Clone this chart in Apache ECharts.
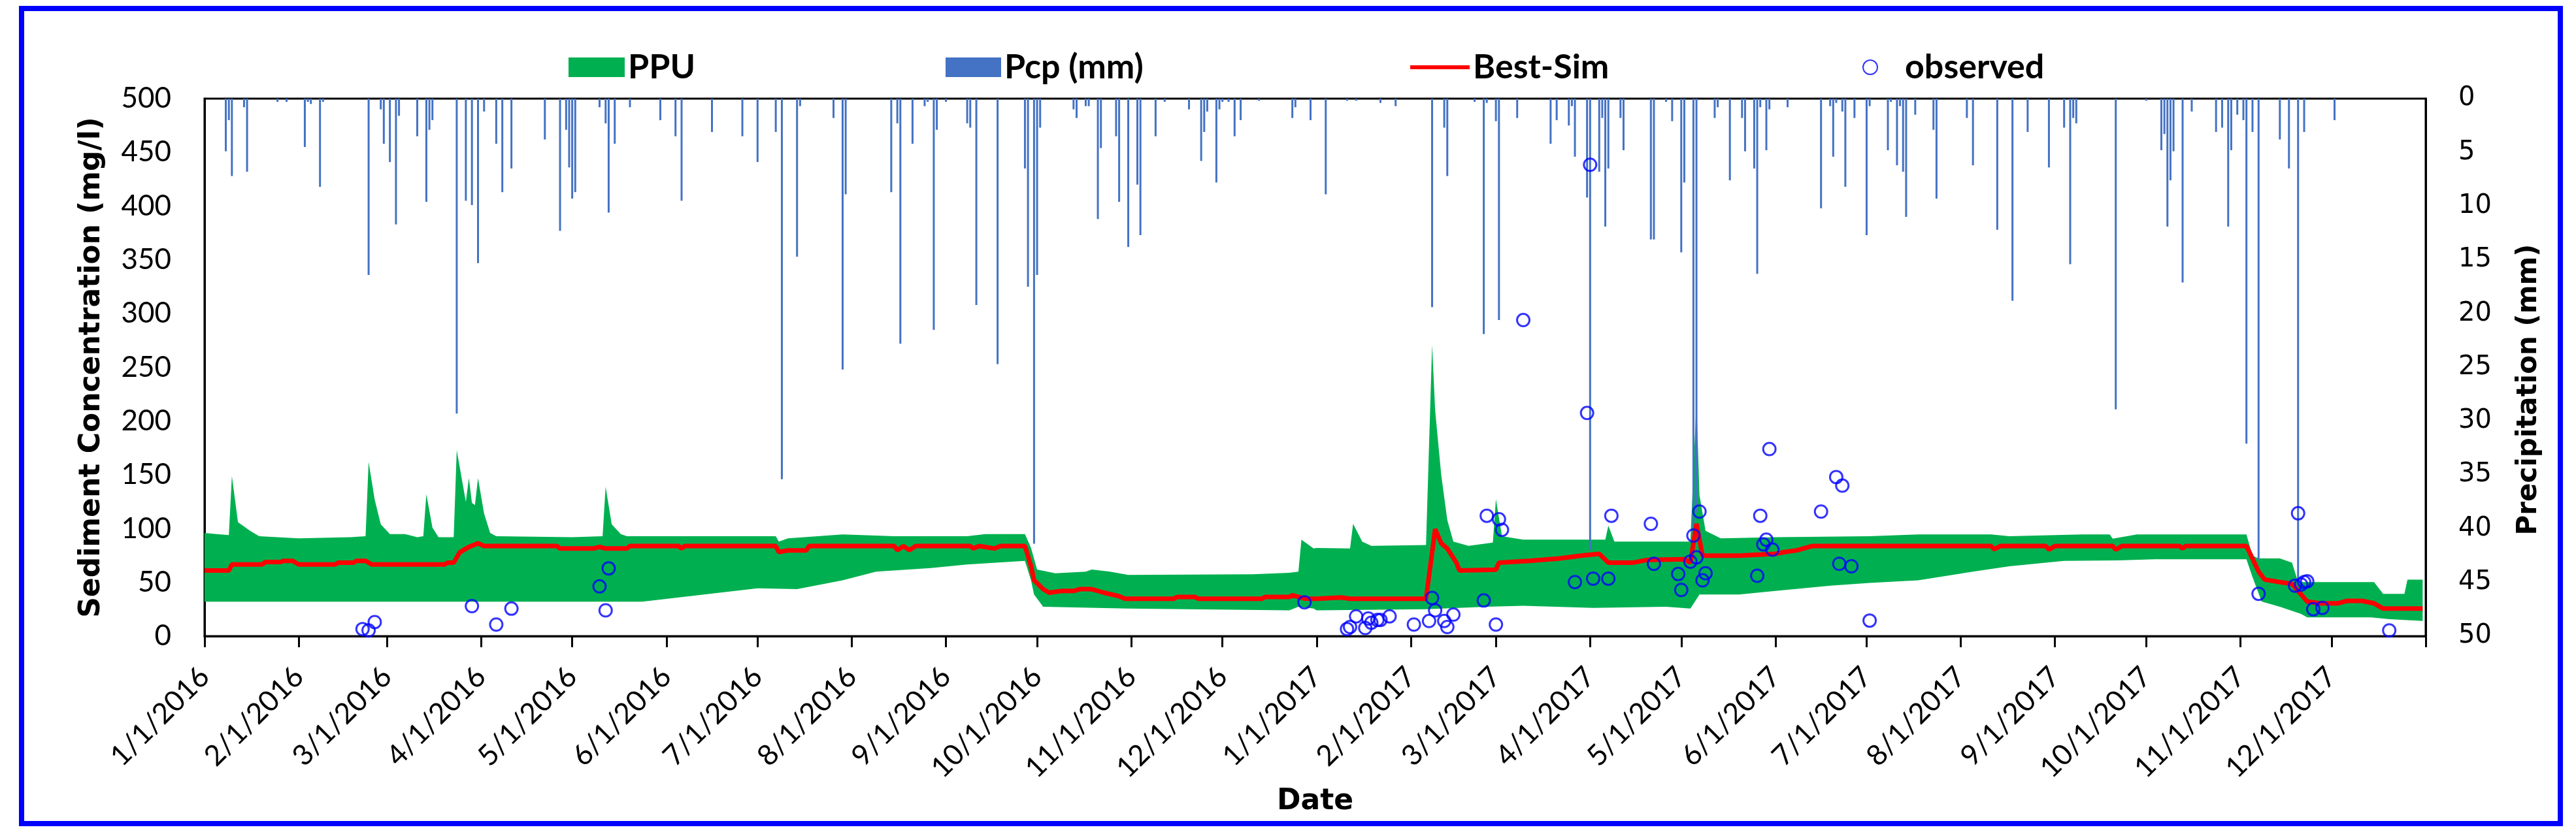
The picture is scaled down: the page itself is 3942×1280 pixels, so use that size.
<!DOCTYPE html>
<html>
<head>
<meta charset="utf-8">
<title>Sediment concentration</title>
<script src="https://cdn.jsdelivr.net/npm/echarts@6/dist/echarts.min.js"></script>
<style>
  html, body { margin: 0; padding: 0; background: #fff; }
  #chart { width: 3942px; height: 1280px; }
</style>
</head>
<body>
<div id="chart"></div>
<script>
// daily precipitation (mm), only the rainy days
const pcp = [
  ['2016-01-08', 4.9], ['2016-01-09', 2.0], ['2016-01-10', 7.2], ['2016-01-14', 0.8], ['2016-01-15', 6.8],
  ['2016-01-25', 0.3], ['2016-01-28', 0.3], ['2016-02-03', 4.5], ['2016-02-04', 0.3], ['2016-02-05', 0.5],
  ['2016-02-08', 8.2], ['2016-02-09', 0.3], ['2016-02-24', 16.4], ['2016-02-28', 1.0], ['2016-02-29', 4.2],
  ['2016-03-02', 5.9], ['2016-03-04', 11.7], ['2016-03-05', 1.6], ['2016-03-11', 3.5], ['2016-03-14', 9.6],
  ['2016-03-15', 2.9], ['2016-03-16', 2.0], ['2016-03-24', 29.3], ['2016-03-27', 9.5], ['2016-03-29', 9.9],
  ['2016-03-31', 15.3], ['2016-04-02', 1.2], ['2016-04-06', 4.2], ['2016-04-08', 8.7], ['2016-04-11', 6.5],
  ['2016-04-22', 3.8], ['2016-04-27', 12.3], ['2016-04-29', 2.9], ['2016-04-30', 6.4], ['2016-05-01', 9.3],
  ['2016-05-02', 8.7], ['2016-05-10', 0.8], ['2016-05-12', 2.3], ['2016-05-13', 10.6], ['2016-05-15', 4.2],
  ['2016-05-20', 0.8], ['2016-05-30', 2.0], ['2016-06-04', 3.5], ['2016-06-06', 9.5], ['2016-06-16', 3.1],
  ['2016-06-26', 3.5], ['2016-07-01', 5.9], ['2016-07-07', 3.1], ['2016-07-09', 35.4], ['2016-07-14', 14.7],
  ['2016-07-15', 0.7], ['2016-07-26', 1.8], ['2016-07-29', 25.2], ['2016-07-30', 8.9], ['2016-08-14', 8.7],
  ['2016-08-16', 2.3], ['2016-08-17', 22.8], ['2016-08-21', 4.2], ['2016-08-25', 0.7], ['2016-08-26', 0.3],
  ['2016-08-28', 21.5], ['2016-08-29', 2.9], ['2016-09-01', 0.3], ['2016-09-08', 2.3], ['2016-09-09', 2.7],
  ['2016-09-11', 19.2], ['2016-09-18', 24.7], ['2016-09-27', 6.5], ['2016-09-28', 17.5], ['2016-09-30', 41.4],
  ['2016-10-01', 16.4], ['2016-10-02', 2.7], ['2016-10-13', 1.0], ['2016-10-14', 1.8], ['2016-10-17', 0.7],
  ['2016-10-18', 0.7], ['2016-10-21', 11.2], ['2016-10-22', 4.6], ['2016-10-27', 3.5], ['2016-10-28', 9.6],
  ['2016-10-31', 13.8], ['2016-11-03', 8.0], ['2016-11-04', 12.7], ['2016-11-09', 3.5], ['2016-11-12', 0.3],
  ['2016-11-20', 1.0], ['2016-11-24', 5.8], ['2016-11-25', 3.1], ['2016-11-26', 1.2], ['2016-11-29', 7.8],
  ['2016-11-30', 1.0], ['2016-12-01', 0.3], ['2016-12-03', 0.3], ['2016-12-05', 3.5], ['2016-12-07', 2.0],
  ['2016-12-13', 0.2], ['2016-12-24', 1.8], ['2016-12-25', 0.8], ['2016-12-30', 2.0],
  ['2017-01-04', 8.9], ['2017-01-11', 0.2], ['2017-01-14', 0.2], ['2017-01-22', 0.4], ['2017-01-27', 0.7],
  ['2017-02-08', 19.4], ['2017-02-12', 2.7], ['2017-02-13', 7.2], ['2017-02-22', 0.3], ['2017-02-25', 21.9],
  ['2017-02-26', 0.4], ['2017-03-01', 2.1], ['2017-03-02', 20.6], ['2017-03-08', 1.8], ['2017-03-19', 4.2],
  ['2017-03-21', 2.0], ['2017-03-25', 2.5], ['2017-03-26', 0.7], ['2017-03-27', 5.4], ['2017-03-31', 9.2],
  ['2017-04-01', 42.0], ['2017-04-04', 6.8], ['2017-04-05', 1.8], ['2017-04-06', 11.9], ['2017-04-07', 6.5],
  ['2017-04-11', 1.8], ['2017-04-12', 4.8], ['2017-04-21', 13.1], ['2017-04-22', 13.1], ['2017-04-26', 0.3],
  ['2017-04-28', 2.1], ['2017-05-01', 14.3], ['2017-05-02', 7.8], ['2017-05-05', 42.4], ['2017-05-06', 38.5],
  ['2017-05-12', 1.8], ['2017-05-13', 0.8], ['2017-05-17', 7.6], ['2017-05-21', 1.8], ['2017-05-22', 4.9],
  ['2017-05-25', 6.5], ['2017-05-26', 16.3], ['2017-05-27', 0.8], ['2017-05-29', 4.8], ['2017-05-30', 1.0],
  ['2017-06-05', 0.8], ['2017-06-16', 10.2], ['2017-06-19', 0.7], ['2017-06-20', 5.4], ['2017-06-21', 0.4],
  ['2017-06-23', 1.2], ['2017-06-24', 8.2], ['2017-06-27', 1.8], ['2017-07-01', 12.7], ['2017-07-02', 0.7],
  ['2017-07-08', 4.8], ['2017-07-09', 0.3], ['2017-07-11', 6.2], ['2017-07-12', 0.7], ['2017-07-13', 6.8],
  ['2017-07-14', 11.0], ['2017-07-17', 1.5], ['2017-07-23', 2.9], ['2017-07-24', 9.3], ['2017-08-03', 1.8],
  ['2017-08-05', 6.2], ['2017-08-13', 12.2], ['2017-08-18', 18.8], ['2017-08-23', 3.1], ['2017-08-30', 6.4],
  ['2017-09-04', 2.7], ['2017-09-06', 15.4], ['2017-09-07', 1.8], ['2017-09-08', 2.3], ['2017-09-21', 28.9],
  ['2017-10-01', 0.2], ['2017-10-06', 4.8], ['2017-10-07', 3.3], ['2017-10-08', 11.9], ['2017-10-09', 7.6],
  ['2017-10-10', 4.9], ['2017-10-13', 17.1], ['2017-10-16', 1.2], ['2017-10-24', 3.1], ['2017-10-26', 2.7],
  ['2017-10-28', 11.9], ['2017-10-29', 4.8], ['2017-10-31', 1.5], ['2017-11-02', 2.0], ['2017-11-03', 32.1],
  ['2017-11-05', 3.1], ['2017-11-07', 42.9], ['2017-11-14', 3.8], ['2017-11-17', 6.5], ['2017-11-20', 45.0],
  ['2017-11-22', 3.1], ['2017-12-02', 2.0]
]

// 95PPU band, upper and lower edge (mg/l)
const ppuUpper = [
  ['2016-01-01', 96], ['2016-01-05', 95], ['2016-01-09', 94], ['2016-01-10', 149], ['2016-01-12', 106],
  ['2016-01-16', 98], ['2016-01-19', 93], ['2016-02-01', 91], ['2016-02-18', 92], ['2016-02-23', 93],
  ['2016-02-24', 162], ['2016-02-26', 127], ['2016-02-28', 104], ['2016-03-02', 95], ['2016-03-07', 95],
  ['2016-03-11', 92], ['2016-03-13', 93], ['2016-03-14', 132], ['2016-03-16', 101], ['2016-03-18', 92],
  ['2016-03-23', 92], ['2016-03-24', 173], ['2016-03-26', 141], ['2016-03-27', 125], ['2016-03-28', 147],
  ['2016-03-29', 124], ['2016-03-30', 122], ['2016-03-31', 147], ['2016-04-02', 114], ['2016-04-04', 96],
  ['2016-04-06', 93], ['2016-05-01', 92], ['2016-05-11', 93], ['2016-05-12', 139], ['2016-05-14', 104],
  ['2016-05-17', 95], ['2016-05-19', 93], ['2016-07-01', 93], ['2016-07-07', 93], ['2016-07-08', 88],
  ['2016-07-11', 91], ['2016-07-29', 94.6], ['2016-08-15', 93], ['2016-09-08', 93], ['2016-09-14', 95],
  ['2016-09-27', 95], ['2016-09-29', 82], ['2016-10-01', 62], ['2016-10-07', 58.5], ['2016-10-17', 60],
  ['2016-10-19', 62], ['2016-10-25', 60], ['2016-10-31', 57], ['2016-12-11', 57.5], ['2016-12-23', 59],
  ['2016-12-26', 60], ['2016-12-27', 89.7], ['2016-12-31', 81.5],
  ['2017-01-01', 82], ['2017-01-12', 81.5], ['2017-01-13', 104.5], ['2017-01-16', 88], ['2017-01-19', 84],
  ['2017-02-06', 84.8], ['2017-02-08', 271], ['2017-02-09', 210], ['2017-02-11', 150], ['2017-02-13', 108],
  ['2017-02-15', 88], ['2017-02-20', 84], ['2017-02-28', 87], ['2017-03-01', 127.5], ['2017-03-03', 93],
  ['2017-03-10', 89.7], ['2017-04-06', 89.7], ['2017-04-07', 102.8], ['2017-04-09', 88], ['2017-05-04', 88],
  ['2017-05-06', 219], ['2017-05-07', 131], ['2017-05-09', 98], ['2017-05-14', 91], ['2017-06-01', 92],
  ['2017-07-02', 93], ['2017-07-18', 94.6], ['2017-08-11', 94.6], ['2017-08-17', 93], ['2017-09-10', 94.6],
  ['2017-09-19', 94.6], ['2017-09-20', 90.7], ['2017-09-28', 94.6], ['2017-11-03', 94.6], ['2017-11-05', 74.9],
  ['2017-11-07', 72.3], ['2017-11-14', 72.3], ['2017-11-18', 68.3], ['2017-11-20', 50.3], ['2017-12-15', 50.3],
  ['2017-12-18', 39.4], ['2017-12-25', 39.4], ['2017-12-26', 52.6], ['2017-12-31', 52.6]
]

const ppuLower = [
  ['2016-01-01', 32], ['2016-05-24', 32], ['2016-07-01', 44.5], ['2016-07-14', 43.7], ['2016-07-29', 51.9],
  ['2016-08-09', 60], ['2016-08-27', 63.4], ['2016-09-08', 66.7], ['2016-09-27', 70], ['2016-09-29', 51.9],
  ['2016-09-30', 38.8], ['2016-10-03', 27.3], ['2016-10-31', 25.6], ['2016-12-23', 24], ['2016-12-26', 27.3],
  ['2016-12-31', 25.6],
  ['2017-01-01', 24], ['2017-02-06', 25], ['2017-02-26', 27.3], ['2017-03-10', 28.3], ['2017-04-02', 26.3],
  ['2017-04-26', 27.3], ['2017-05-04', 25.6], ['2017-05-07', 38.8], ['2017-05-20', 38.8], ['2017-06-01', 42],
  ['2017-06-19', 47], ['2017-07-02', 49.5], ['2017-07-18', 51.9], ['2017-08-05', 60], ['2017-08-17', 65],
  ['2017-09-04', 70], ['2017-09-22', 70.5], ['2017-10-04', 71.6], ['2017-11-03', 71.6], ['2017-11-05', 55],
  ['2017-11-08', 32.2], ['2017-11-14', 27.3], ['2017-11-21', 20.7], ['2017-11-23', 17.4], ['2017-12-14', 17.4],
  ['2017-12-20', 15.8], ['2017-12-31', 14.1]
]

// best simulation (mg/l)
const bestSim = [
  ['2016-01-01', 61], ['2016-01-09', 61], ['2016-01-10', 66.7], ['2016-01-20', 66.7], ['2016-01-21', 69],
  ['2016-01-26', 69], ['2016-01-27', 70], ['2016-01-30', 70], ['2016-02-01', 66.7], ['2016-02-13', 66.7],
  ['2016-02-14', 68.3], ['2016-02-19', 68.3], ['2016-02-20', 70], ['2016-02-23', 70], ['2016-02-25', 66.7],
  ['2016-03-20', 66.7], ['2016-03-21', 68.3], ['2016-03-23', 68.3], ['2016-03-25', 78], ['2016-03-28', 83],
  ['2016-03-31', 86.4], ['2016-04-02', 83.8], ['2016-04-26', 83.8], ['2016-04-27', 81.5], ['2016-05-08', 81.5],
  ['2016-05-10', 83], ['2016-05-12', 81.5], ['2016-05-19', 81.5], ['2016-05-20', 83.8], ['2016-06-05', 83.8],
  ['2016-06-06', 81.5], ['2016-06-07', 83.8], ['2016-07-07', 83.8], ['2016-07-08', 78.2], ['2016-07-11', 79.8],
  ['2016-07-17', 79.8], ['2016-07-18', 83.8], ['2016-08-15', 83.8], ['2016-08-16', 80], ['2016-08-18', 83.8],
  ['2016-08-20', 80], ['2016-08-22', 83.8], ['2016-09-09', 83.8], ['2016-09-10', 81.5], ['2016-09-12', 83.8],
  ['2016-09-17', 81.5], ['2016-09-19', 83.8], ['2016-09-27', 83.8], ['2016-09-29', 65], ['2016-09-30', 51.9],
  ['2016-10-03', 43.7], ['2016-10-05', 40.4], ['2016-10-09', 42], ['2016-10-13', 42], ['2016-10-15', 43.7],
  ['2016-10-19', 43.7], ['2016-10-23', 40.4], ['2016-10-28', 37.1], ['2016-10-30', 34.8], ['2016-11-15', 34.8],
  ['2016-11-16', 36.5], ['2016-11-22', 36.5], ['2016-11-23', 34.8], ['2016-12-14', 34.8], ['2016-12-15', 36.5],
  ['2016-12-23', 36.5], ['2016-12-24', 38.1], ['2016-12-28', 35],
  ['2017-01-01', 34.8], ['2017-01-09', 36], ['2017-01-12', 34.8], ['2017-02-06', 34.8], ['2017-02-09', 99.5],
  ['2017-02-11', 86.4], ['2017-02-13', 81.5], ['2017-02-16', 68.3], ['2017-02-17', 61], ['2017-03-01', 61.8],
  ['2017-03-02', 68.3], ['2017-03-12', 70], ['2017-03-22', 72.3], ['2017-03-29', 74.9], ['2017-04-04', 76.5],
  ['2017-04-07', 68.3], ['2017-04-15', 68.3], ['2017-04-20', 71], ['2017-05-02', 71.6], ['2017-05-04', 68.3],
  ['2017-05-06', 104.5], ['2017-05-08', 74.9], ['2017-05-20', 74.9], ['2017-06-01', 76.5], ['2017-06-04', 78.2],
  ['2017-06-08', 79.8], ['2017-06-13', 83.8], ['2017-08-11', 83.8], ['2017-08-12', 80.8], ['2017-08-14', 83.8],
  ['2017-08-29', 83.8], ['2017-08-30', 80.5], ['2017-09-01', 83.8], ['2017-09-20', 83.8], ['2017-09-21', 80.5],
  ['2017-09-23', 83.8], ['2017-10-12', 83.8], ['2017-10-13', 81.5], ['2017-10-14', 83.8], ['2017-11-03', 83.8],
  ['2017-11-04', 78], ['2017-11-07', 60.1], ['2017-11-09', 52.6], ['2017-11-14', 50.3], ['2017-11-18', 48.6],
  ['2017-11-20', 42], ['2017-11-23', 32.2], ['2017-11-27', 30.5], ['2017-12-03', 30.5], ['2017-12-06', 32.8],
  ['2017-12-11', 32.8], ['2017-12-15', 30.5], ['2017-12-18', 25.6], ['2017-12-31', 25.6]
]

// observed sediment samples (mg/l)
const observed = [
  ['2016-02-22', 6.6], ['2016-02-24', 5.3], ['2016-02-26', 13.1], ['2016-03-29', 27.9], ['2016-04-06', 10.8],
  ['2016-04-11', 25.6], ['2016-05-10', 46.3], ['2016-05-12', 24.0], ['2016-05-13', 63.1], ['2016-12-28', 31.5],
  ['2017-01-11', 6.6], ['2017-01-12', 8.5], ['2017-01-14', 18.4], ['2017-01-17', 7.6], ['2017-01-18', 16.4],
  ['2017-01-19', 12.5], ['2017-01-21', 15.1], ['2017-01-22', 15.1], ['2017-01-25', 18.4], ['2017-02-02', 10.8],
  ['2017-02-07', 14.1], ['2017-02-08', 35.5], ['2017-02-09', 24.0], ['2017-02-12', 14.1], ['2017-02-13', 8.5],
  ['2017-02-15', 20.0], ['2017-02-25', 33.2], ['2017-02-26', 112.0], ['2017-03-01', 10.8], ['2017-03-02', 108.7],
  ['2017-03-03', 98.9], ['2017-03-10', 294], ['2017-03-27', 50.3], ['2017-03-31', 207.6], ['2017-04-01', 438.5],
  ['2017-04-02', 53.5], ['2017-04-07', 53.5], ['2017-04-08', 112], ['2017-04-21', 104.5], ['2017-04-22', 67.3],
  ['2017-04-30', 57.8], ['2017-05-01', 43.0], ['2017-05-04', 69.3], ['2017-05-05', 93.6], ['2017-05-06', 73.3],
  ['2017-05-07', 115.9], ['2017-05-08', 51.9], ['2017-05-09', 58.5], ['2017-05-26', 56.2], ['2017-05-27', 112],
  ['2017-05-28', 85.4], ['2017-05-29', 89.7], ['2017-05-30', 174], ['2017-05-31', 80.5], ['2017-06-16', 115.9],
  ['2017-06-21', 148], ['2017-06-22', 67.3], ['2017-06-23', 140], ['2017-06-26', 65], ['2017-07-02', 14.5],
  ['2017-11-07', 39.4], ['2017-11-19', 47], ['2017-11-20', 114.3], ['2017-11-21', 48], ['2017-11-22', 50.3],
  ['2017-11-23', 51], ['2017-11-25', 25], ['2017-11-28', 26.3], ['2017-12-20', 5.3]
]

const START = '2016-01-01'
const END = '2018-01-01'

// local-time timestamp from 'YYYY-MM-DD'
const toTime = s => {
  const [y, m, d] = s.split('-').map(Number)
  return new Date(y, m - 1, d).getTime()
}
const toPoints = arr => arr.map(([d, v]) => [toTime(d), v])

// first of every month, used for ticks and labels
const monthStarts = []
for (let t = new Date(2016, 0, 1); t.getTime() <= toTime(END); t = new Date(t.getFullYear(), t.getMonth() + 1, 1)) {
  monthStarts.push(t.getTime())
}
const labelValues = monthStarts.slice(0, -1)

const upperPts = toPoints(ppuUpper)
const lowerPts = toPoints(ppuLower)

const legendText = {
  fontFamily: 'Lato',
  fontWeight: 'bold',
  fontSize: 52,
  color: '#000',
}
const nameText = {
  fontFamily: 'DejaVu Sans',
  fontWeight: 'bold',
  fontSize: 44,
  color: '#000',
}

const option = {
  animation: false,
  backgroundColor: '#fff',
  graphic: [
    {
      type: 'rect',
      shape: { x: 33, y: 13, width: 3885, height: 1248 },
      style: { fill: 'none', stroke: '#0000FF', lineWidth: 8 },
      z: 100,
    },
  ],
  legend: [
    { data: [{ name: 'PPU', icon: 'rect' }], left: 865, top: 72, itemWidth: 86, itemHeight: 30, textStyle: legendText, selectedMode: false },
    { data: [{ name: 'Pcp (mm)', icon: 'rect' }], left: 1442, top: 72, itemWidth: 85, itemHeight: 30, textStyle: legendText, selectedMode: false },
    { data: [{ name: 'Best-Sim', icon: 'rect' }], left: 2153, top: 72, itemWidth: 91, itemHeight: 6, textStyle: legendText, selectedMode: false },
    { data: [{ name: 'observed' }], left: 2845, top: 72, itemWidth: 96, itemHeight: 22, textStyle: legendText, selectedMode: false },
  ],
  grid: {
    left: 313,
    right: 230,
    top: 151,
    bottom: 306,
    show: true,
    borderColor: '#000',
    borderWidth: 3,
  },
  xAxis: {
    type: 'value',
    min: toTime(START),
    max: toTime(END),
    name: 'Date',
    nameLocation: 'middle',
    nameGap: 212,
    nameTextStyle: nameText,
    axisLine: { lineStyle: { color: '#000', width: 3 } },
    axisTick: { show: true, customValues: monthStarts, length: 17, lineStyle: { color: '#000', width: 3 } },
    axisLabel: {
      customValues: labelValues,
      rotate: 45,
      margin: 55,
      fontFamily: 'Lato',
      fontSize: 44,
      color: '#000',
      formatter: v => {
        const d = new Date(v)
        return (d.getMonth() + 1) + '/' + d.getDate() + '/' + d.getFullYear()
      },
    },
    splitLine: { show: false },
  },
  yAxis: [
    {
      type: 'value',
      min: 0,
      max: 500,
      interval: 50,
      name: 'Sediment Concentration (mg/l)',
      nameLocation: 'middle',
      nameRotate: 90,
      nameGap: 150,
      nameTextStyle: nameText,
      axisLine: { show: true, lineStyle: { color: '#000', width: 3 } },
      axisTick: { show: false },
      axisLabel: { margin: 51, fontFamily: 'Lato', fontSize: 44, color: '#000' },
      splitLine: { show: false },
    },
    {
      type: 'value',
      position: 'right',
      inverse: true,
      min: 0,
      max: 50,
      interval: 5,
      name: 'Precipitation (mm)',
      nameLocation: 'middle',
      nameRotate: 90,
      nameGap: 137,
      nameTextStyle: Object.assign({}, nameText, { fontSize: 42, padding: [0, 68, 0, 0] }),
      axisLine: { show: true, lineStyle: { color: '#000', width: 3 } },
      axisTick: { show: false },
      axisLabel: { margin: 50, fontFamily: 'DejaVu Sans', fontSize: 40, color: '#000' },
      splitLine: { show: false },
    },
  ],
  series: [
    {
      name: 'PPU',
      type: 'custom',
      coordinateSystem: 'cartesian2d',
      xAxisIndex: 0,
      yAxisIndex: 0,
      z: 1,
      silent: true,
      itemStyle: { color: '#00B050' },
      data: [[toTime(START), 0]],
      encode: { x: 0, y: 1 },
      renderItem: (params, api) => {
        const pts = upperPts.map(p => api.coord(p))
          .concat(lowerPts.slice().reverse().map(p => api.coord(p)))
        return { type: 'polygon', shape: { points: pts }, style: { fill: '#00B050' } }
      },
    },
    {
      name: 'Pcp (mm)',
      type: 'bar',
      xAxisIndex: 0,
      yAxisIndex: 1,
      z: 2,
      barWidth: 3,
      itemStyle: { color: '#4472C4' },
      data: toPoints(pcp),
    },
    {
      name: 'Best-Sim',
      type: 'line',
      xAxisIndex: 0,
      yAxisIndex: 0,
      z: 3,
      symbol: 'none',
      lineStyle: { color: '#FF0000', width: 7 },
      itemStyle: { color: '#FF0000' },
      data: toPoints(bestSim),
    },
    {
      name: 'observed',
      type: 'scatter',
      xAxisIndex: 0,
      yAxisIndex: 0,
      z: 4,
      symbol: 'circle',
      symbolSize: 19,
      itemStyle: { color: 'rgba(0,0,0,0)', borderColor: '#0000FF', borderWidth: 3 },
      data: toPoints(observed),
    },
  ],
}

const chart = echarts.init(document.getElementById('chart'))
chart.setOption(option)
</script>
</body>
</html>
